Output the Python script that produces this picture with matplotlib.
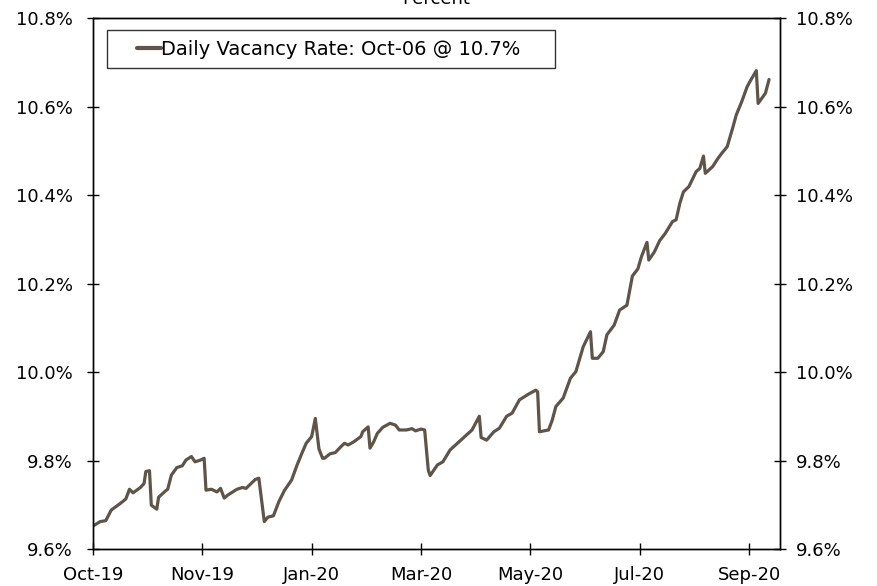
import numpy as np
import pandas as pd
import matplotlib
matplotlib.use('Agg')
import matplotlib.pyplot as plt
import matplotlib.dates as mdates
from matplotlib.ticker import FuncFormatter
from matplotlib.legend_handler import HandlerLine2D

# days since 2019-10-01 and daily vacancy rate (%)
start_date = "2019-10-01"
days = [0, 4, 7, 10, 15, 18, 20, 22, 26, 28, 29, 31, 32, 35, 36, 40, 41, 43, 46, 49,
        51, 54, 56, 59, 61, 62, 65, 68, 70, 72, 74, 79, 82, 84, 89, 91, 94, 96, 99, 102,
        105, 109, 112, 115, 117, 120, 122, 124, 126, 127, 130, 133, 136, 138, 140, 143, 147, 148, 151, 152,
        154, 156, 159, 163, 166, 168, 172, 175, 177, 180, 182, 184, 185, 189, 192, 196, 200, 205, 208, 212,
        213, 216, 220, 223, 227, 230, 234, 239, 243, 244, 245, 250, 252, 254, 258, 262, 265, 269, 273, 274,
        277, 280, 282, 286, 289, 293, 296, 299, 301, 304, 305, 308, 311, 314, 318, 320, 322, 324, 327, 331,
        333, 335, 336, 340, 343, 345, 348, 351, 353, 356, 359, 361, 364, 365, 369, 371]
vacancy = [9.652, 9.662, 9.664, 9.688, 9.703, 9.713, 9.735, 9.727, 9.739, 9.748, 9.775, 9.777, 9.699, 9.690, 9.717, 9.732, 9.735, 9.767, 9.784, 9.788,
           9.801, 9.809, 9.797, 9.801, 9.805, 9.733, 9.735, 9.729, 9.737, 9.715, 9.722, 9.735, 9.739, 9.737, 9.757, 9.760, 9.662, 9.672, 9.675, 9.707,
           9.732, 9.756, 9.790, 9.820, 9.839, 9.854, 9.895, 9.826, 9.805, 9.805, 9.815, 9.818, 9.831, 9.839, 9.835, 9.842, 9.854, 9.865, 9.876, 9.828,
           9.842, 9.861, 9.875, 9.884, 9.880, 9.869, 9.869, 9.872, 9.867, 9.871, 9.869, 9.778, 9.766, 9.790, 9.797, 9.824, 9.839, 9.858, 9.869, 9.900,
           9.852, 9.846, 9.865, 9.873, 9.900, 9.907, 9.937, 9.950, 9.959, 9.955, 9.865, 9.869, 9.891, 9.922, 9.941, 9.986, 10.001, 10.057, 10.091, 10.031,
           10.031, 10.046, 10.084, 10.106, 10.140, 10.151, 10.217, 10.233, 10.261, 10.293, 10.253, 10.271, 10.297, 10.313, 10.340, 10.344, 10.381, 10.407, 10.419, 10.453,
           10.460, 10.488, 10.449, 10.464, 10.483, 10.494, 10.509, 10.551, 10.581, 10.611, 10.645, 10.660, 10.681, 10.607, 10.630, 10.661]
series_label = "Daily Vacancy Rate: Oct-06 @ 10.7%"
y_ticks = [9.6, 9.8, 10.0, 10.2, 10.4, 10.6, 10.8]

LINE_COLOR = '#5f5448'
FS = 13


class RightHandle(HandlerLine2D):
    # legend line only on the right part of the handle box
    def get_xdata(self, legend, xdescent, ydescent, width, height, fontsize):
        x0 = -xdescent + width * 0.45
        x1 = -xdescent + width
        return np.array([x0, x1]), np.array([(x0 + x1) / 2])


dates = pd.Timestamp(start_date) + pd.to_timedelta(days, unit='D')
x_ticks = pd.date_range(start_date, periods=7, freq='60D')
pct = FuncFormatter(lambda v, _: f"{v:.1f}%")

plt.rcParams['font.family'] = ['DejaVu Sans']

fig = plt.figure(figsize=(8.77, 5.86), dpi=100)
ax = fig.add_axes([93 / 877, 1 - 549 / 586, 687 / 877, 531 / 586])

line, = ax.plot(dates, vacancy, color=LINE_COLOR, linewidth=2.3, label=series_label,
                solid_joinstyle='round', solid_capstyle='round')

ax.set_xlim(pd.Timestamp(start_date), pd.Timestamp("2020-10-12"))
ax.set_ylim(y_ticks[0], y_ticks[-1])
ax.set_yticks(y_ticks)
ax.yaxis.set_major_formatter(pct)
ax.set_xticks(x_ticks)
ax.xaxis.set_major_formatter(mdates.DateFormatter('%b-%y'))

ax2 = ax.twinx()
ax2.set_ylim(y_ticks[0], y_ticks[-1])
ax2.set_yticks(y_ticks)
ax2.yaxis.set_major_formatter(pct)

for a in (ax, ax2):
    for s in a.spines.values():
        s.set_linewidth(1.0)
        s.set_color('black')
ax.tick_params(axis='both', direction='inout', length=9, width=1.0,
               labelsize=FS, colors='black')
ax.tick_params(axis='y', pad=10)
ax.tick_params(axis='x', pad=8)
ax2.tick_params(axis='y', direction='inout', length=9, width=1.0,
                labelsize=FS, colors='black', pad=7)

leg = ax.legend(handles=[line], loc='upper left',
                bbox_to_anchor=(14 / 687, 0, 448 / 687, 1 - 12 / 531),
                mode='expand', borderaxespad=0, fontsize=14, frameon=True,
                fancybox=False, handlelength=2.28, handletextpad=0.0,
                borderpad=0.5, handler_map={line: RightHandle()})
leg.get_frame().set_edgecolor('black')
leg.get_frame().set_linewidth(1.0)
leg.get_lines()[0].set_linewidth(3.0)

fig.text(436.5 / 877, 1 - 4 / 586, "Percent", ha='center', va='baseline', fontsize=FS)

fig.savefig('out.png', dpi=100)
